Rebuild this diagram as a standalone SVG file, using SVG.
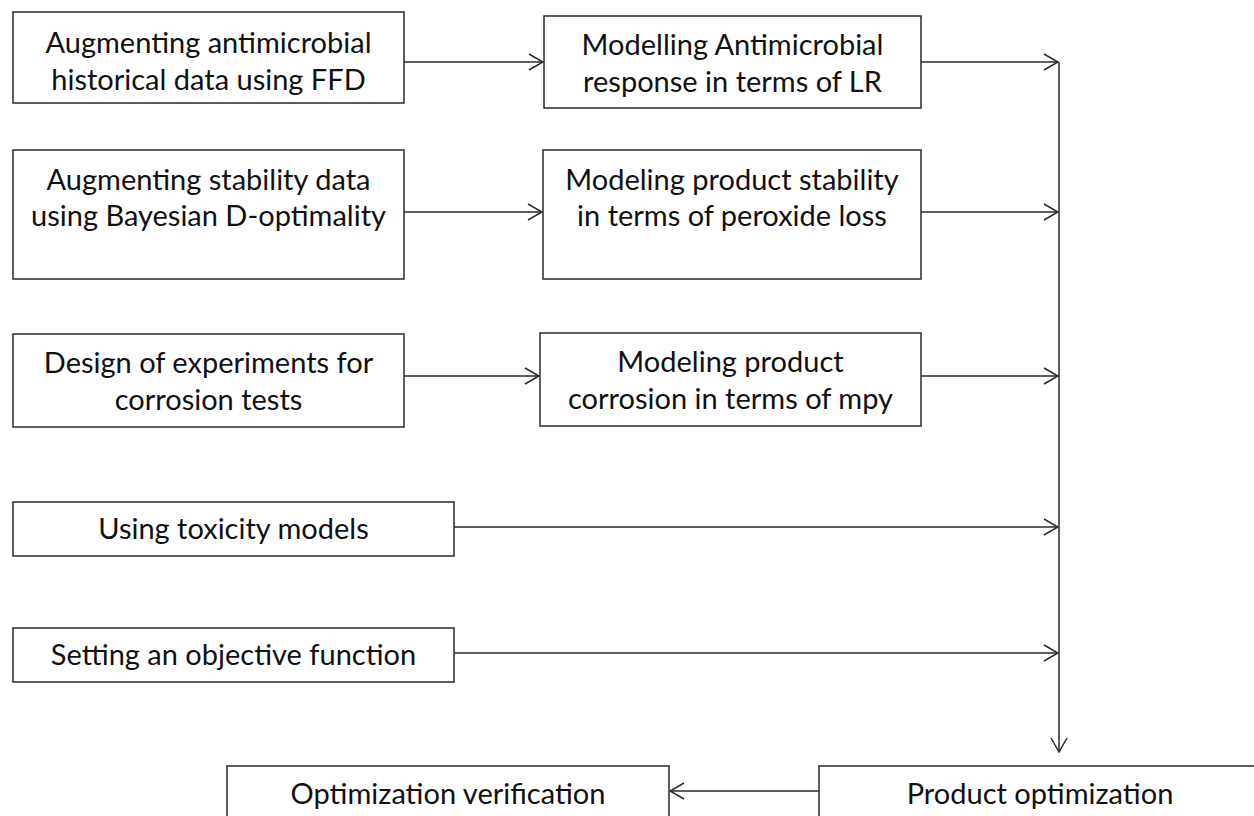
<svg xmlns="http://www.w3.org/2000/svg" width="1254" height="816" viewBox="0 0 1254 816">
<defs>
<style>
.box{fill:#fff;stroke:#2a2a2a;stroke-width:1.5}
.t{font-family:Lato,"Liberation Sans",sans-serif;font-size:29px;fill:#111;text-anchor:middle}
.c{fill:none;stroke:#2a2a2a;stroke-width:1.5}
</style>
<marker id="ah" viewBox="0 0 16 18" refX="15" refY="9" markerWidth="16" markerHeight="18" markerUnits="userSpaceOnUse" orient="auto">
<path d="M1,1 L15,9 L1,17" fill="none" stroke="#2a2a2a" stroke-width="1.5"/>
</marker>
</defs>
<rect width="1254" height="816" fill="#fff"/>
<g id="connectors">
<line class="c" x1="404" y1="62" x2="543" y2="62" marker-end="url(#ah)"/>
<line class="c" x1="404" y1="212" x2="542" y2="212" marker-end="url(#ah)"/>
<line class="c" x1="404" y1="376" x2="539" y2="376" marker-end="url(#ah)"/>
<line class="c" x1="921" y1="62" x2="1058" y2="62" marker-end="url(#ah)"/>
<line class="c" x1="921" y1="212" x2="1058" y2="212" marker-end="url(#ah)"/>
<line class="c" x1="921" y1="376" x2="1058" y2="376" marker-end="url(#ah)"/>
<line class="c" x1="454" y1="527" x2="1058" y2="527" marker-end="url(#ah)"/>
<line class="c" x1="454" y1="653" x2="1058" y2="653" marker-end="url(#ah)"/>
<line class="c" x1="1059" y1="62" x2="1059" y2="752" marker-end="url(#ah)"/>
<line class="c" x1="819" y1="791" x2="670" y2="791" marker-end="url(#ah)"/>
</g>
<g id="n1"><rect class="box" x="13" y="12" width="391" height="91"/>
<text class="t" x="208.5" y="53">Augmenting antimicrobial</text><text class="t" x="208.5" y="90">historical data using FFD</text></g>
<g id="n2"><rect class="box" x="13" y="150" width="391" height="129"/>
<text class="t" x="208.5" y="190">Augmenting stability data</text><text class="t" x="208.5" y="226">using Bayesian D-optimality</text></g>
<g id="n3"><rect class="box" x="13" y="334" width="391" height="93"/>
<text class="t" x="208.5" y="373">Design of experiments for</text><text class="t" x="208.5" y="410">corrosion tests</text></g>
<g id="n4"><rect class="box" x="13" y="502" width="441" height="54"/>
<text class="t" x="233.5" y="539">Using toxicity models</text></g>
<g id="n5"><rect class="box" x="13" y="628" width="441" height="54"/>
<text class="t" x="233.5" y="665">Setting an objective function</text></g>
<g id="m1"><rect class="box" x="544" y="16" width="377" height="92"/>
<text class="t" x="732.5" y="55">Modelling Antimicrobial</text><text class="t" x="732.5" y="92">response in terms of LR</text></g>
<g id="m2"><rect class="box" x="543" y="150" width="378" height="129"/>
<text class="t" x="732" y="190">Modeling product stability</text><text class="t" x="732" y="226">in terms of peroxide loss</text></g>
<g id="m3"><rect class="box" x="540" y="333" width="381" height="93"/>
<text class="t" x="730.5" y="372">Modeling product</text><text class="t" x="730.5" y="409">corrosion in terms of mpy</text></g>
<g id="verify"><rect class="box" x="227" y="766" width="442" height="60"/>
<text class="t" x="448" y="804">Optimization verification</text></g>
<g id="optimize"><rect class="box" x="819" y="766" width="445" height="60"/>
<text class="t" x="1040" y="804">Product optimization</text></g>
</svg>
